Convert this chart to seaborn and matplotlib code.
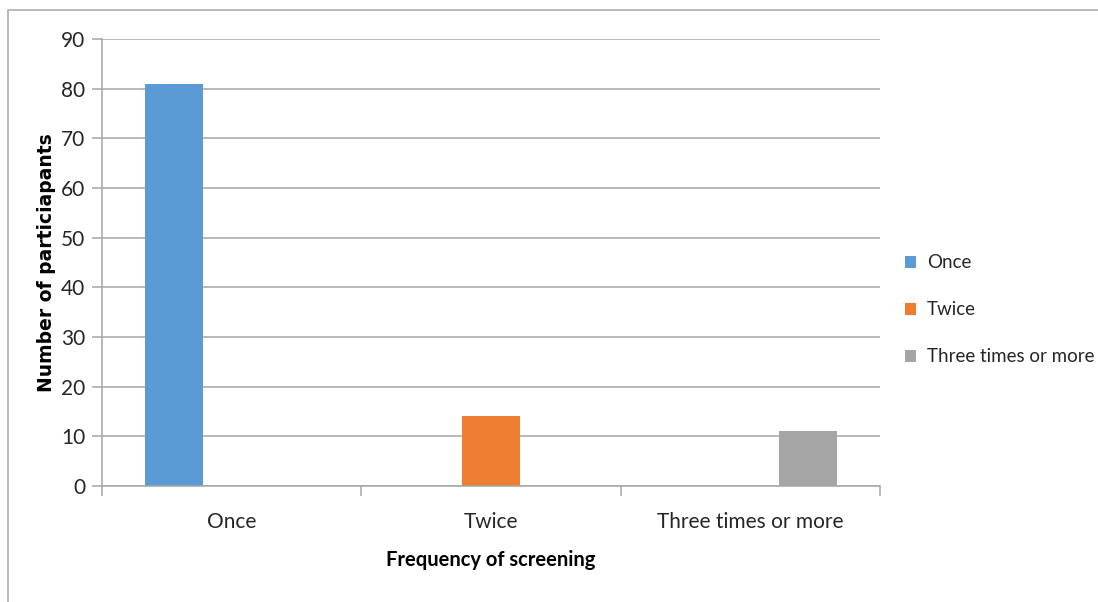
import matplotlib
matplotlib.use("Agg")
import matplotlib.pyplot as plt
import seaborn as sns
import pandas as pd
from matplotlib.patches import Rectangle
from matplotlib.ticker import FixedLocator

categories = ["Once", "Twice", "Three times or more"]
series = ["Once", "Twice", "Three times or more"]
counts = [81, 14, 11]
colors = ["#5B9BD5", "#ED7D31", "#A5A5A5"]
y_ticks = [0, 10, 20, 30, 40, 50, 60, 70, 80, 90]

rows = []
for i, cat in enumerate(categories):
    for j, s in enumerate(series):
        rows.append({"category": cat, "series": s, "count": counts[i] if i == j else 0})
df = pd.DataFrame(rows)

sns.set_theme(style="white")
plt.rcParams["font.family"] = ["Lato", "DejaVu Sans"]

fig = plt.figure(figsize=(10.98, 6.02), dpi=100)
ax = fig.add_axes([102 / 1098, 1 - 486 / 602, (880 - 102) / 1098, (486 - 39) / 602])

sns.barplot(data=df, x="category", y="count", hue="series", order=categories,
            hue_order=series, palette=colors, width=0.665, saturation=1,
            ax=ax, legend=True, linewidth=0)

ax.set_xlim(-0.5, 2.5)
ax.set_ylim(0, 90)
ax.set_yticks(y_ticks)
ax.yaxis.grid(True, color="#A6A6A6", linewidth=1.1)
ax.set_axisbelow(True)
for side in ["top", "right"]:
    ax.spines[side].set_visible(False)
ax.spines["left"].set_color("#A6A6A6")
ax.spines["bottom"].set_color("#A6A6A6")
ax.spines["left"].set_linewidth(1.1)
ax.spines["bottom"].set_linewidth(1.1)

ax.tick_params(axis="y", which="major", length=7, width=1.1, color="#A6A6A6",
               labelsize=15, labelcolor="#262626", pad=5, left=True)
ax.tick_params(axis="x", which="major", length=0, labelsize=15,
               labelcolor="#262626", pad=19)
ax.xaxis.set_minor_locator(FixedLocator([-0.5, 0.5, 1.5, 2.5]))
ax.tick_params(axis="x", which="minor", length=7, width=1.1, color="#A6A6A6",
               bottom=True)

ax.set_xlabel("Frequency of screening", fontsize=14.5, fontweight="bold",
              color="#000000", labelpad=13)
ax.set_ylabel("Number of particiapants", fontsize=13.5, fontweight="bold",
              color="#000000", labelpad=4, family=["DejaVu Sans"])

leg = ax.legend(loc="center left", bbox_to_anchor=(1.01, 0.394), frameon=False,
                fontsize=13.5, handlelength=0.6, handleheight=0.6,
                handletextpad=0.6, labelspacing=1.6)
for t in leg.get_texts():
    t.set_color("#262626")

# outer chart frame
fig.patches.append(Rectangle((8 / 1098, -0.05), 1.2, 1 - 10 / 602 + 0.05,
                             transform=fig.transFigure, fill=False,
                             edgecolor="#A6A6A6", linewidth=1.1))

fig.savefig("out.png", dpi=100)
